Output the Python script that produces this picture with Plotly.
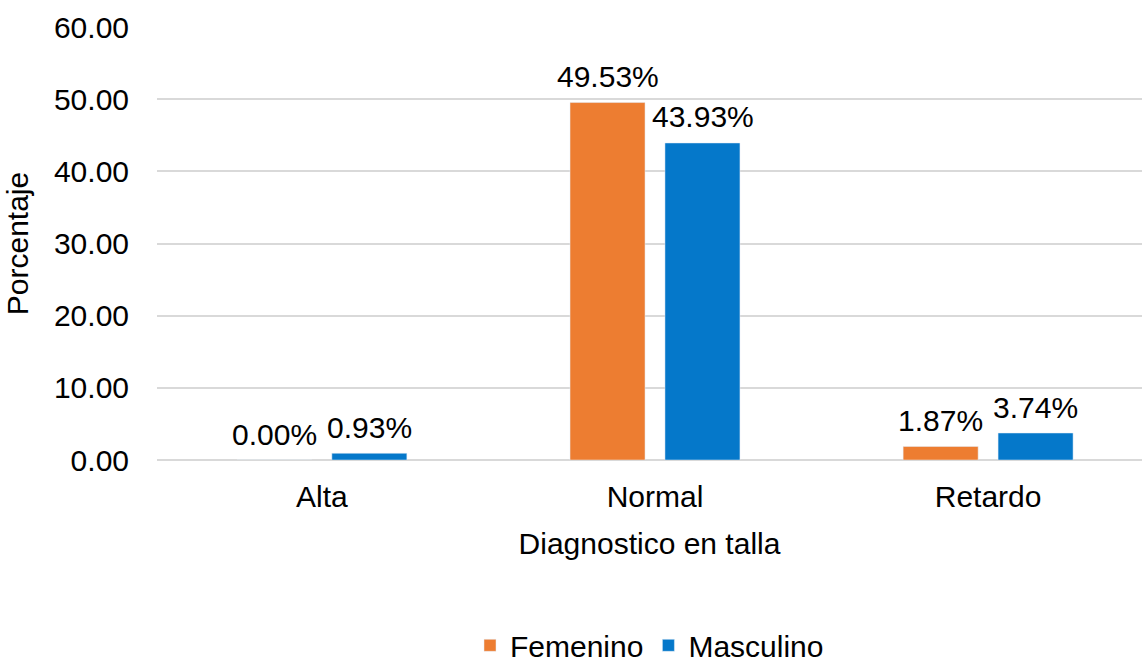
import plotly.graph_objects as go

categories = ["Alta", "Normal", "Retardo"]
femenino = [0.00, 49.53, 1.87]
masculino = [0.93, 43.93, 3.74]
y_ticks = [0, 10, 20, 30, 40, 50, 60]

FONT = "Liberation Sans, Arial, sans-serif"
FS = 30
BAR_OFFSET_PX = 47.5
LABEL_SHIFT_PX = 26

fig = go.Figure()
fig.add_trace(go.Bar(
    name="Femenino", x=categories, y=femenino,
    marker=dict(color="#ED7D31"),
))
fig.add_trace(go.Bar(
    name="Masculino", x=categories, y=masculino,
    marker=dict(color="#0578CA"),
))

for series, sign in ((femenino, -1), (masculino, 1)):
    for cat, v in zip(categories, series):
        fig.add_annotation(
            x=cat, y=v, xref="x", yref="y", text=f"{v:.2f}%", showarrow=False,
            xshift=sign * BAR_OFFSET_PX, yshift=LABEL_SHIFT_PX, yanchor="middle",
            font=dict(size=FS, color="#000000", family=FONT),
        )

fig.update_layout(
    width=1142, height=662,
    margin=dict(l=157, r=0, t=27, b=202, autoexpand=False),
    paper_bgcolor="white", plot_bgcolor="white",
    barmode="group", bargap=0.43, bargroupgap=0.21,
    font=dict(family=FONT, size=FS, color="#000000"),
    legend=dict(orientation="h", x=0.5, xanchor="center", y=-0.428, yanchor="middle",
                font=dict(size=FS), itemwidth=30, traceorder="normal"),
    xaxis=dict(range=[-0.495, 2.462], showgrid=False, showline=False, ticks="",
               automargin=False, ticklabelstandoff=16,
               tickfont=dict(size=FS),
               title=dict(text="Diagnostico en talla", font=dict(size=FS), standoff=20)),
    yaxis=dict(range=[0, 60], tickvals=y_ticks, tickformat=".2f", showgrid=True,
               gridcolor="#D9D9D9", gridwidth=1.5, zeroline=True, zerolinecolor="#D9D9D9",
               zerolinewidth=1.5, showline=False, ticks="", ticklabelstandoff=27,
               automargin=True,
               tickfont=dict(size=FS),
               title=dict(text="Porcentaje", font=dict(size=FS), standoff=16)),
)

fig.write_html("out.html")
